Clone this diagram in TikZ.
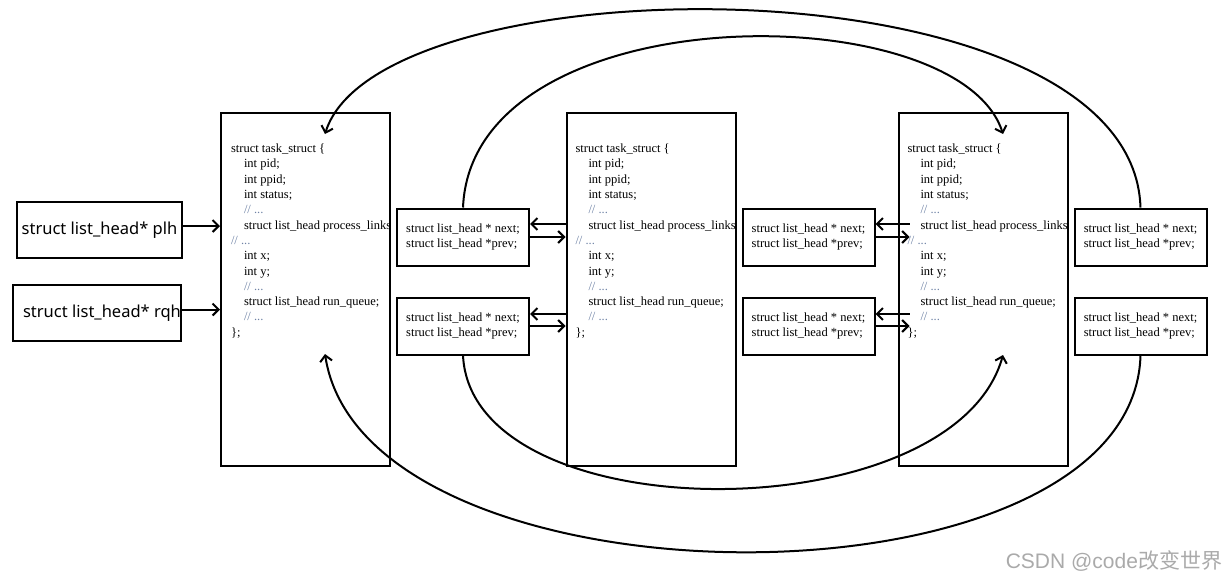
\documentclass[tikz,border=0pt]{standalone}
\usepackage{fontspec}
\setmainfont{Liberation Serif}
\newfontfamily\uisans{Noto Sans}
\newfontfamily\marksans{Liberation Sans}
\newfontfamily\cjk{Noto Sans CJK SC}
\usetikzlibrary{arrows.meta,positioning,calc}
\definecolor{lccmt}{RGB}{110,130,165}
\definecolor{lcmark}{RGB}{170,170,170}
\newcommand\tabin{\hspace*{13pt}}
\newcommand\cmt{\textcolor{lccmt}{// ...}}
\newcommand\codetext{%
  struct task\_struct \{\\
  \tabin int pid;\\
  \tabin int ppid;\\
  \tabin int status;\\
  \tabin \cmt\\
  \tabin struct list\_head process\_links\\
  \cmt\\
  \tabin int x;\\
  \tabin int y;\\
  \tabin \cmt\\
  \tabin struct list\_head run\_queue;\\
  \tabin \cmt\\
  \};}

\begin{document}
\begin{tikzpicture}[%
    x=1pt, y=-1pt,              % pixel grid, y runs downwards
    >={Straight Barb[length=6pt,width=12pt]},
    node distance=5pt and 5pt,
    line width=2pt]
\useasboundingbox (0,0) rectangle (1229,581);
% -------------------------------------------------
% box styles
\tikzset{
  box/.style={draw, rectangle, inner sep=0pt},
  task/.style={box, minimum width=169pt, minimum height=353pt},
  link/.style={box, minimum width=132pt, minimum height=57pt, align=left,
    font=\fontsize{12.5}{15.3}\selectfont},
  head/.style={box, minimum width=165pt, minimum height=56pt,
    font=\uisans\fontsize{16.5}{19}\selectfont},
  code/.style={anchor=north west, inner sep=0pt, align=left,
    font=\fontsize{12.5}{15.3}\selectfont},
  % -------------------------------------------------
  % connector styles
  wire/.style={->, draw, line width=2pt},
  loop/.style={->, draw, line width=2pt}
}
% -------------------------------------------------
% the three task_struct boxes
\node [task] (t1) at (305.5,289.5) {};
\node [task] (t2) at (651,289.5) {};
\node [task] (t3) at (983,289.5) {};
\node [code] (t1code) at ($(t1.north west)+(10,31)$) {\codetext};
\node [code] (t2code) at ($(t2.north west)+(9,31)$) {\codetext};
\node [code] (t3code) at ($(t3.north west)+(9,31)$) {\codetext};

% list_head boxes right of each task
\node [link, right=of t1, yshift=52.5pt] (a1) {struct list\_head * next;\\struct list\_head *prev;};
\node [link, right=of t1, yshift=-36.5pt] (a2) {struct list\_head * next;\\struct list\_head *prev;};
\node [link, right=of t2, yshift=52.5pt] (b1) {struct list\_head * next;\\struct list\_head *prev;};
\node [link, right=of t2, yshift=-36.5pt] (b2) {struct list\_head * next;\\struct list\_head *prev;};
\node [link, right=of t3, yshift=52.5pt] (c1) {struct list\_head * next;\\struct list\_head *prev;};
\node [link, right=of t3, yshift=-36.5pt] (c2) {struct list\_head * next;\\struct list\_head *prev;};

% list heads on the left
\node [head] (plh) at (99.5,230) {struct list\_head* plh};
\node [head] (rqh) at (97,313) {\hspace*{10pt}struct list\_head* rqh};

% watermark
\node [anchor=east, inner sep=0pt, text=lcmark, font=\marksans\fontsize{21}{24}\selectfont]
  (mark) at (1223,561) {CSDN @code{\cjk 改变世界}};

% -------------------------------------------------
% straight connectors
\draw [wire] ($(plh.east)+(0,-4)$) -- ($(plh.east -| t1.west)+(0,-4)$);
\draw [wire] ($(rqh.east)+(0,-3.5)$) -- ($(rqh.east -| t1.west)+(0,-3.5)$);

\draw [wire] ($(a1.east -| t2.west)+(0,-13)$) -- ($(a1.east)+(0,-13)$);
\draw [wire] (a1.east) -- (a1.east -| t2.west);
\draw [wire] ($(a2.east -| t2.west)+(0,-12)$) -- ($(a2.east)+(0,-12)$);
\draw [wire] (a2.east) -- (a2.east -| t2.west);

\draw [wire] ($(b1.east -| t3.west)+(12,-13)$) -- ($(b1.east)+(0,-13)$);
\draw [wire] (b1.east) -- ($(b1.east -| t3.west)+(12,0)$);
\draw [wire] ($(b2.east -| t3.west)+(12,-12)$) -- ($(b2.east)+(0,-12)$);
\draw [wire] (b2.east) -- ($(b2.east -| t3.west)+(12,0)$);

% -------------------------------------------------
% the big loops round the tasks
\coordinate (t1top) at ($(t1.north)+(19.5,22)$);
\coordinate (t3top) at ($(t3.north)+(20,22)$);
\coordinate (t1bot) at ($(t1.south)+(19.5,-113)$);
\coordinate (t3bot) at ($(t3.south)+(20,-112)$);

\draw [loop] (c1.north) .. controls +(-8,-252) and +(55,-175) .. (t1top);
\draw [loop] (a1.north) .. controls +(9,-214) and +(-45,-140) .. (t3top);
\draw [loop] (a2.south) .. controls +(9,178) and +(-50,178) .. (t3bot);
\draw [loop] (c2.south) .. controls +(-8,264) and +(40,262) .. (t1bot);
\end{tikzpicture}
\end{document}
